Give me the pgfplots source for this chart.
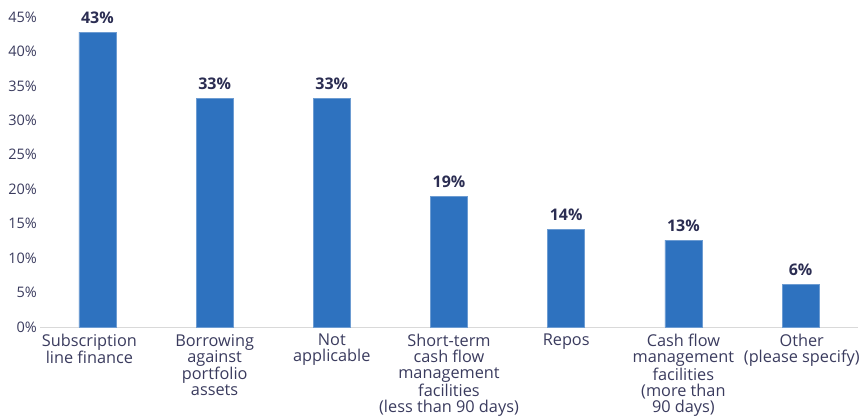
\documentclass[border=0pt]{standalone}
\usepackage{pgfplots}
\pgfplotsset{compat=1.18}
\usepackage{fontspec}
\setmainfont{Open Sans}
\definecolor{barblue}{HTML}{2E72BF}
\definecolor{txt}{HTML}{3A3B5E}
\definecolor{lbl}{HTML}{2B2D52}
\definecolor{axgray}{HTML}{D9D9D9}
\begin{document}
\begin{tikzpicture}[x=1pt,y=1pt]
\begin{axis}[
  at={(0pt,0pt)}, anchor=south west,
  scale only axis, width=818pt, height=310pt,
  ymin=0, ymax=45, xmin=-0.49, xmax=6.49,
  ytick={0,5,...,45},
  yticklabel={\pgfmathprintnumber{\tick}\%},
  /pgf/number format/assume math mode=true,
  xtick={1,...,5},
  xticklabels={{Borrowing\\against\\portfolio\\assets},{Not\\applicable},{Short-term\\cash flow\\management\\facilities\\(less than 90 days)},{Repos},{Cash flow\\management\\facilities\\(more than\\90 days)}},
  extra x ticks={-0.068,6.01},
  extra x tick labels={{Subscription\\line finance},{Other\\(please specify)}},
  xticklabel style={align=center, font=\fontsize{16.3}{16.1}\selectfont, text=txt, inner sep=0pt, yshift=-7pt},
  yticklabel style={font=\fontsize{14.5}{16}\selectfont, text=txt, inner sep=0pt, xshift=-3pt},
  axis y line*=left,
  y axis line style={draw=none},
  axis x line*=bottom,
  x axis line style={draw=axgray, line width=1pt, -},
  major tick length=0pt,
  tick style={draw=none},
  extra tick style={major tick length=0pt, tick style={draw=none}},
  clip=false,
  ybar, bar width=37pt,
  nodes near coords,
  point meta=explicit symbolic,
  every node near coord/.append style={font=\fontsize{16}{18}\bfseries\selectfont, text=lbl, yshift=5pt},
]
\addplot[fill=barblue, draw=barblue!70!white, line width=0.5pt] coordinates {
  (0,42.8) [43\%]
  (1,33.2) [33\%]
  (2,33.2) [33\%]
  (3,19.0) [19\%]
  (4,14.2) [14\%]
  (5,12.6) [13\%]
  (6,6.2) [6\%]
};
\end{axis}
\pgfresetboundingbox
\path[use as bounding box] (-40pt,-89pt) rectangle (822pt,327pt);
\end{tikzpicture}
\end{document}
